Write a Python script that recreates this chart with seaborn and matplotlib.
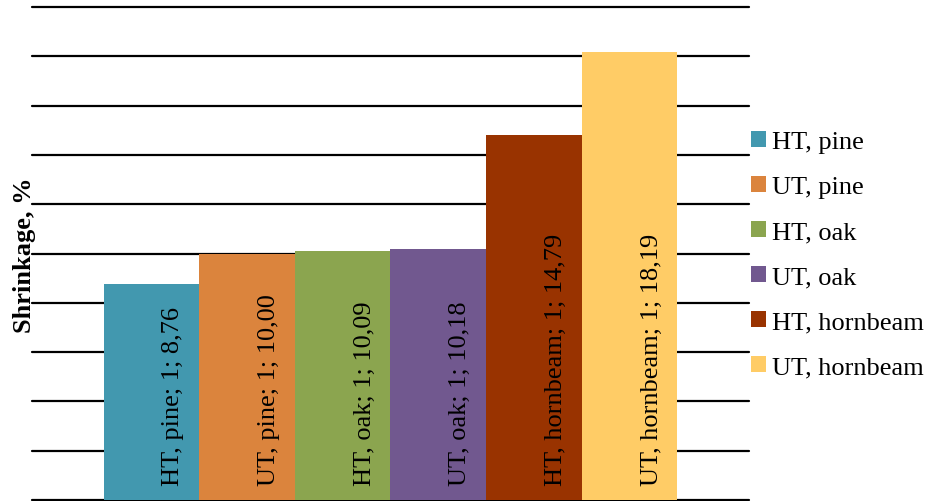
import numpy as np
import pandas as pd
import matplotlib
matplotlib.use("Agg")
import matplotlib.pyplot as plt
import seaborn as sns

# Shrinkage data: one category, six treatment/species series
categories = ["1"]
series = ["HT, pine", "UT, pine", "HT, oak", "UT, oak", "HT, hornbeam", "UT, hornbeam"]
values = [8.76, 10.00, 10.09, 10.18, 14.79, 18.19]
colors = ["#4298AF", "#DB843D", "#8BA54F", "#71588F", "#993300", "#FFCC66"]

df = pd.DataFrame({
    "category": categories * len(series),
    "series": series,
    "value": values,
})

sns.set_theme(style="white")
plt.rcParams["font.family"] = ["Liberation Serif", "DejaVu Serif"]
plt.rcParams["font.size"] = 19
plt.rcParams["text.color"] = "black"

fig = plt.figure(figsize=(9.31, 5.02), dpi=100)
ax = fig.add_axes([32 / 931, 1 - 501 / 502, (749 - 32) / 931, (501 - 8) / 502])

sns.barplot(data=df, x="category", y="value", hue="series", hue_order=series,
            palette=colors, saturation=1, width=0.8, linewidth=0,
            errorbar=None, legend=False, ax=ax)

ax.set_ylim(0, 20)
ax.set_yticks(np.arange(0, 21, 2))
ax.yaxis.grid(True, color="black", linewidth=1.6)
ax.set_axisbelow(True)
for gl in ax.get_ygridlines():
    gl.set_clip_on(False)
ax.tick_params(left=False, bottom=False, labelleft=False, labelbottom=False)
for s in ax.spines.values():
    s.set_visible(False)
ax.set_xlabel("")
ax.set_ylabel("")

# Value labels written inside each bar, near its base
for name, val, cont in zip(series, values, ax.containers):
    bar = cont[0]
    xc = bar.get_x() + bar.get_width() / 2
    txt = f"{name}; {categories[0]}; {val:.2f}".replace(".", ",")
    ax.annotate(txt, xy=(xc, 0), xytext=(22, 15), textcoords="offset pixels",
                rotation=90, ha="center", va="bottom", fontsize=19, color="black")

fig.text(25 / 931, 0.491, "Shrinkage, %", rotation=90, ha="center", va="center",
         fontsize=19, fontweight="bold", color="black")

handles = [plt.Rectangle((0, 0), 1, 1, facecolor=c, edgecolor="none") for c in colors]
leg = fig.legend(handles, series, loc="center left", bbox_to_anchor=(751 / 931, 0.491),
                 frameon=False, fontsize=19, handlelength=0.55, handleheight=0.55,
                 handletextpad=0.25, labelspacing=0.86, borderpad=0, borderaxespad=0)
for t in leg.get_texts():
    t.set_color("black")

fig.savefig("out.png", dpi=100)
